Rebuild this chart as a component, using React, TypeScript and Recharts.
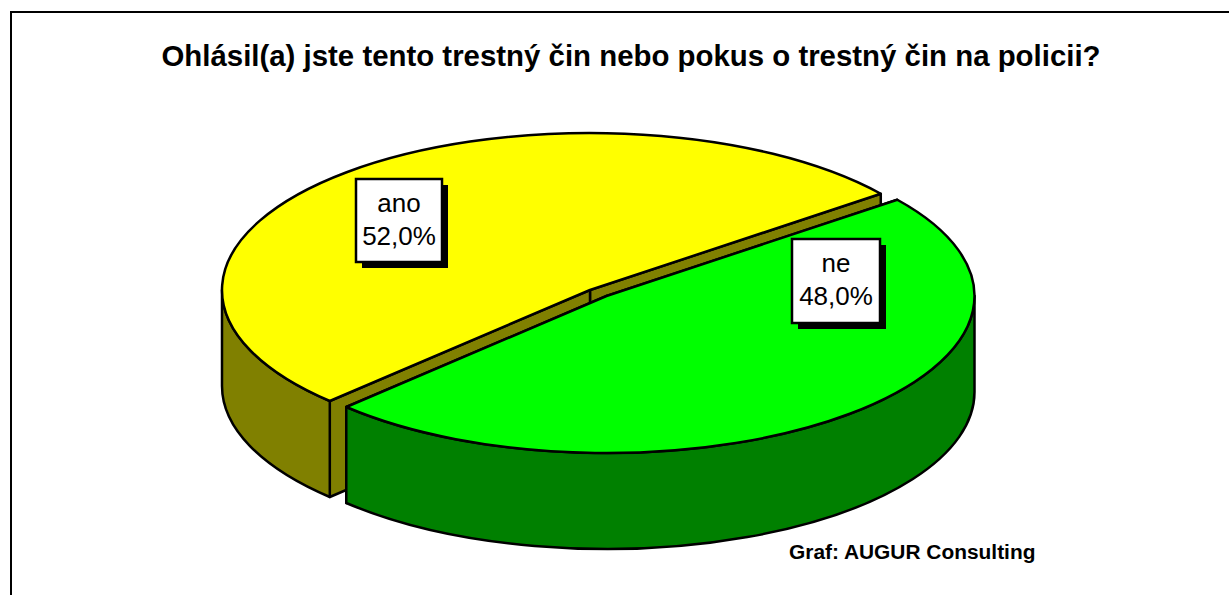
import React from "react";
import { PieChart, Pie, Cell } from "recharts";

const categories = ["ano", "ne"];
const shares = [52.0, 48.0];

const title = "Ohlásil(a) jste tento trestný čin nebo pokus o trestný čin na policii?";
const credit = "Graf: AUGUR Consulting";

const topColors = ["#ffff00", "#00ff00"];
const sideColors = ["#808000", "#008000"];

// how far each slice is pulled away from the pie centre
const sliceOffsets = [{ x: 0, y: 0 }, { x: 16.5, y: 6 }];
// white label boxes, hand placed like in the original
const labelBoxes = [
    { x: 356, y: 179, w: 86, h: 83 },
    { x: 792, y: 239, w: 88, h: 84 },
];

const SQUASH = 157 / 368; // tilt of the pie
const DEPTH = 96;

const rad = (deg: number) => (deg * Math.PI) / 180;

// recharts only knows round pies, so squash the sector into an ellipse here
function TiltedSlice(props: any) {
    const { cx, cy, outerRadius, startAngle, endAngle, name } = props;
    const i = categories.indexOf(name);
    const ox = cx + sliceOffsets[i].x;
    const oy = cy + sliceOffsets[i].y;
    const rx = outerRadius;
    const ry = outerRadius * SQUASH;
    const pt = (a: number, d = 0) => [ox + rx * Math.cos(rad(a)), oy - ry * Math.sin(rad(a)) + d];
    const [sx, sy] = pt(startAngle);
    const [ex, ey] = pt(endAngle);
    const large = endAngle - startAngle > 180 ? 1 : 0;

    const top = `M${ox},${oy} L${sx},${sy} A${rx},${ry} 0 ${large} 0 ${ex},${ey} Z`;
    const cut = (x: number, y: number) =>
        `M${ox},${oy} L${x},${y} L${x},${y + DEPTH} L${ox},${oy + DEPTH} Z`;

    // outer wall, only the part on the lower half of the ellipse is visible
    const a0 = Math.max(startAngle, 180);
    const a1 = Math.min(endAngle, 360);
    const [wx0, wy0] = pt(a0);
    const [wx1, wy1] = pt(a1);
    const wall = `M${wx0},${wy0} A${rx},${ry} 0 0 0 ${wx1},${wy1} L${wx1},${wy1 + DEPTH} A${rx},${ry} 0 0 1 ${wx0},${wy0 + DEPTH} Z`;

    const line = { stroke: "#000", strokeWidth: 2.5, strokeLinejoin: "round" as const };
    return (
        <g>
            <path d={cut(sx, sy)} fill={sideColors[i]} {...line} />
            <path d={cut(ex, ey)} fill={sideColors[i]} {...line} />
            <path d={wall} fill={sideColors[i]} {...line} />
            <path d={top} fill={topColors[i]} {...line} />
        </g>
    );
}

function SliceLabel(props: any) {
    const { name, value } = props;
    const box = labelBoxes[categories.indexOf(name)];
    const mid = box.x + box.w / 2;
    const font = { fontFamily: "Liberation Sans", fontSize: 26, fill: "#000", textAnchor: "middle" as const };
    return (
        <g>
            <rect x={box.x + 6} y={box.y + 6} width={box.w} height={box.h} fill="#000" />
            <rect x={box.x} y={box.y} width={box.w} height={box.h} fill="#fff" stroke="#000" strokeWidth={2.5} />
            <text x={mid} y={box.y + 33} {...font}>{name}</text>
            <text x={mid} y={box.y + 66} {...font}>{value.toFixed(1).replace(".", ",") + "%"}</text>
        </g>
    );
}

export default function App() {
    const data = categories.map((name, i) => ({ name, value: shares[i] }));

    return (
        <div style={{ position: "absolute", left: 0, top: 0, width: 1229, height: 595, overflow: "hidden", background: "#fff" }}>
            {/* frame runs off the right and bottom edge of the picture */}
            <div style={{ position: "absolute", left: 10, top: 11, width: 1300, height: 700, border: "2px solid #000" }} />
            <div style={{ position: "absolute", left: 0, top: 39, width: 1262, textAlign: "center", fontFamily: "Liberation Sans", fontWeight: "bold", fontSize: 29.4, color: "#000", whiteSpace: "nowrap" }}>
                {title}
            </div>
            <PieChart width={1229} height={595} margin={{ top: 0, right: 0, bottom: 0, left: 0 }} style={{ position: "absolute", left: 0, top: 0 }}>
                <Pie
                    data={data}
                    dataKey="value"
                    nameKey="name"
                    cx={590}
                    cy={290}
                    innerRadius={0}
                    outerRadius={368}
                    startAngle={37.8}
                    endAngle={397.8}
                    isAnimationActive={false}
                    shape={TiltedSlice}
                    label={SliceLabel}
                    labelLine={false}
                >
                    {categories.map((c, i) => <Cell key={c} fill={topColors[i]} />)}
                </Pie>
            </PieChart>
            <div style={{ position: "absolute", left: 789, top: 540, fontFamily: "Liberation Sans", fontWeight: "bold", fontSize: 20.9, color: "#000", whiteSpace: "nowrap" }}>
                {credit}
            </div>
        </div>
    );
}
